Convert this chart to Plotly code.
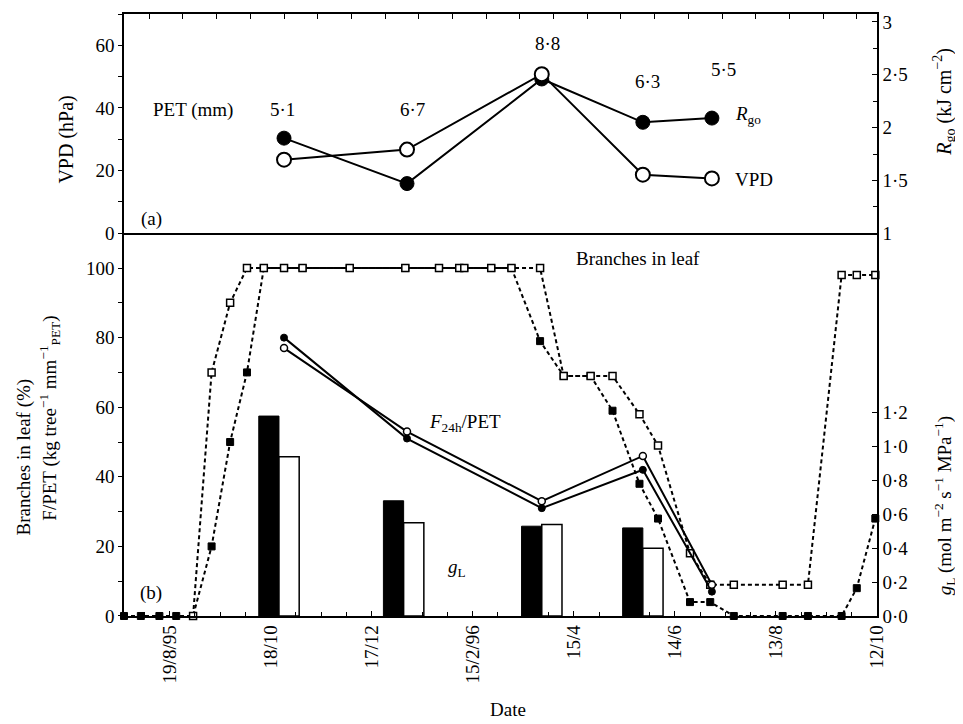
import plotly.graph_objects as go

# ---------------- data ----------------
# (a) measurement campaigns
campaign_dates = ['1995-10-26', '1996-01-07', '1996-03-27', '1996-05-26', '1996-07-06']
vpd_hpa = [23.5, 26.7, 50.8, 18.7, 17.5]
rgo_kj = [1.90, 1.47, 2.46, 2.05, 2.09]
pet_mm_labels = ['5·1', '6·7', '8·8', '6·3', '5·5']

# (b) F24h/PET (two trees)
fpet_open = [77, 53, 33, 46, 9]
fpet_filled = [80, 51, 31, 42, 7]

# (b) leaf conductance gL
gl_dates = ['1995-10-23', '1996-01-05', '1996-03-27', '1996-05-26']
gl_black = [1.18, 0.68, 0.53, 0.52]
gl_white = [0.94, 0.55, 0.54, 0.40]

# (b) branches in leaf (%)
leaf_open_dates = ['1995-09-02', '1995-09-13', '1995-09-24', '1995-10-04', '1995-10-14', '1995-10-26',
                   '1995-11-06', '1995-12-04', '1996-01-06', '1996-01-26', '1996-02-07', '1996-02-10',
                   '1996-02-26', '1996-03-09', '1996-03-26', '1996-04-09', '1996-04-25', '1996-05-08',
                   '1996-05-24', '1996-06-04', '1996-06-23', '1996-07-05', '1996-07-19', '1996-08-17',
                   '1996-09-01', '1996-09-21', '1996-09-30', '1996-10-11']
leaf_open = [0, 70, 90, 100, 100, 100, 100, 100, 100, 100, 100, 100, 100, 100, 100, 69, 69, 69,
             58, 49, 18, 9, 9, 9, 9, 98, 98, 98]

leaf_filled_dates = ['1995-07-23', '1995-08-02', '1995-08-13', '1995-08-23', '1995-09-02', '1995-09-13',
                     '1995-09-24', '1995-10-04', '1995-10-14', '1995-10-26', '1995-11-06', '1995-12-04',
                     '1996-01-06', '1996-01-26', '1996-02-07', '1996-02-10', '1996-02-26', '1996-03-09',
                     '1996-03-26', '1996-04-09', '1996-04-25', '1996-05-08', '1996-05-24', '1996-06-04',
                     '1996-06-23', '1996-07-05', '1996-07-19', '1996-08-17', '1996-09-01', '1996-09-21',
                     '1996-09-30', '1996-10-11']
leaf_filled = [0, 0, 0, 0, 0, 20, 50, 70, 100, 100, 100, 100, 100, 100, 100, 100, 100, 100,
               79, 69, 69, 59, 38, 28, 4, 4, 0, 0, 0, 0, 8, 28]

x_tick_dates = ['1995-08-19', '1995-10-18', '1995-12-17', '1996-02-15', '1996-04-15',
                '1996-06-14', '1996-08-13', '1996-10-12']
x_tick_labels = ['19/8/95', '18/10', '17/12', '15/2/96', '15/4', '14/6', '13/8', '12/10']

gl_ticks = [0, 0.2, 0.4, 0.6, 0.8, 1.0, 1.2]
gl_tick_labels = ['0·0', '0·2', '0·4', '0·6', '0·8', '1·0', '1·2']
rgo_ticks = [1, 1.5, 2, 2.5, 3]
rgo_tick_labels = ['1', '1·5', '2', '2·5', '3']

# ---------------- figure ----------------
DAY = 86400000
XR = ['1995-07-23', '1996-10-12']
FONT = 'Liberation Serif, Times New Roman, serif'
dash = '4px,3px'

fig = go.Figure()

# gL bars (right axis, bottom panel)
fig.add_trace(go.Bar(x=gl_dates, y=gl_black, xaxis='x', yaxis='y2', width=12 * DAY, offset=-12 * DAY,
                     marker=dict(color='black', line=dict(color='black', width=1))))
fig.add_trace(go.Bar(x=gl_dates, y=gl_white, xaxis='x', yaxis='y2', width=12 * DAY, offset=0,
                     marker=dict(color='white', line=dict(color='black', width=1.5))))

# branches in leaf
fig.add_trace(go.Scatter(x=leaf_filled_dates, y=leaf_filled, xaxis='x', yaxis='y', mode='lines+markers',
                         line=dict(color='black', width=2, dash=dash), cliponaxis=False,
                         marker=dict(symbol='square', size=7, color='black', line=dict(color='black', width=1))))
fig.add_trace(go.Scatter(x=leaf_open_dates, y=leaf_open, xaxis='x', yaxis='y', mode='lines+markers',
                         line=dict(color='black', width=2, dash=dash), cliponaxis=False,
                         marker=dict(symbol='square', size=7, color='white', line=dict(color='black', width=1.5))))

# F24h/PET
fig.add_trace(go.Scatter(x=campaign_dates, y=fpet_filled, xaxis='x', yaxis='y', mode='lines+markers',
                         line=dict(color='black', width=2),
                         marker=dict(symbol='circle', size=7, color='black', line=dict(color='black', width=1))))
fig.add_trace(go.Scatter(x=campaign_dates, y=fpet_open, xaxis='x', yaxis='y', mode='lines+markers',
                         line=dict(color='black', width=2),
                         marker=dict(symbol='circle', size=7, color='white', line=dict(color='black', width=1.5))))

# (a) Rgo and VPD
fig.add_trace(go.Scatter(x=campaign_dates, y=rgo_kj, xaxis='x2', yaxis='y4', mode='lines+markers',
                         line=dict(color='black', width=2),
                         marker=dict(symbol='circle', size=14, color='black', line=dict(color='black', width=1))))
fig.add_trace(go.Scatter(x=campaign_dates, y=vpd_hpa, xaxis='x2', yaxis='y3', mode='lines+markers',
                         line=dict(color='black', width=2),
                         marker=dict(symbol='circle', size=14, color='white', line=dict(color='black', width=2))))

axis_common = dict(showgrid=False, zeroline=False, showline=True, linecolor='black', linewidth=1.5,
                   tickcolor='black', tickfont=dict(family=FONT, size=19, color='black'))

SPLIT = 0.6358

# page body has an 8px default margin: figure is drawn from (8, 8)
fig.update_layout(
    width=955, height=716,
    margin=dict(l=116, r=86, t=4, b=108),
    paper_bgcolor='white', plot_bgcolor='white',
    showlegend=False, barmode='overlay',
    font=dict(family=FONT, size=19, color='black'),
    xaxis=dict(type='date', range=XR, anchor='y2', tickvals=x_tick_dates, ticktext=x_tick_labels,
               tickangle=-90, ticks='inside', ticklen=5,
               minor=dict(ticks='inside', ticklen=4, dtick=15 * DAY, tick0='1995-08-04', tickcolor='black'),
               **axis_common),
    xaxis2=dict(type='date', range=XR, anchor='y4', side='top', showticklabels=False, ticks='inside',
                ticklen=5, dtick=20 * DAY, tick0='1995-08-27', mirror=True, **axis_common),
    yaxis2=dict(domain=[0, SPLIT], range=[0, 2.259], side='right', anchor='x',
                tickvals=gl_ticks, ticktext=gl_tick_labels, ticks='inside', ticklen=5, **axis_common),
    yaxis=dict(overlaying='y2', side='left', anchor='x', range=[0, 110],
               tickvals=[0, 20, 40, 60, 80, 100], ticks='outside', ticklen=4,
               minor=dict(dtick=10, ticks='outside', ticklen=4, tickcolor='black'), **axis_common),
    yaxis4=dict(domain=[SPLIT, 1], range=[1, 3.075], side='right', anchor='x2',
                tickvals=rgo_ticks, ticktext=rgo_tick_labels, ticks='inside', ticklen=5,
                minor=dict(dtick=0.25, ticks='inside', ticklen=4, tickcolor='black'), **axis_common),
    yaxis3=dict(overlaying='y4', side='left', anchor='x2', range=[0, 70],
                tickvals=[0, 20, 40, 60], ticks='outside', ticklen=4,
                minor=dict(dtick=10, ticks='outside', ticklen=4, tickcolor='black'), **axis_common),
)

def px_to_paper(px, py):
    # screen pixel -> paper fraction (plot area spans x 124..877, y 12..616 on screen)
    return (px - 124) / 753.0, (616 - py) / 604.0

def note(text, px, py, size=19, angle=0, xanchor='center'):
    x, y = px_to_paper(px, py)
    fig.add_annotation(text=text, x=x, y=y, xref='paper', yref='paper', showarrow=False,
                       textangle=angle, xanchor=xanchor, yanchor='middle',
                       font=dict(family=FONT, size=size, color='black'))

# axis titles
note('VPD (hPa)', 67, 138, size=20, angle=-90)
note('<i>R</i><sub>go</sub> (kJ cm<sup>−2</sup>)', 944, 100, size=20, angle=-90)
note('Branches in leaf (%)', 24, 457, size=19, angle=-90)
note('F/PET (kg tree<sup>−1</sup> mm<sup>−1</sup><sub>PET</sub>)', 50, 418, size=19, angle=-90)
note('<i>g</i><sub>L</sub> (mol m<sup>−2</sup> s<sup>−1</sup> MPa<sup>−1</sup>)', 944, 505, size=19, angle=-90)
note('Date', 508, 710, size=19)

# panel labels & in-plot texts
note('(a)', 151, 218)
note('(b)', 151, 593)
note('PET (mm)', 193, 108)
pet_px = [(282, 108), (412, 108), (547, 42), (647, 80), (723, 68)]
for lbl, (px, py) in zip(pet_mm_labels, pet_px):
    note(lbl, px, py)
note('<i>R</i><sub>go</sub>', 733, 113, xanchor='left')
note('VPD', 733, 178, xanchor='left')
note('Branches in leaf', 638, 257)
note('<i>F</i><sub>24h</sub>/PET', 465, 422)
note('<i>g</i><sub>L</sub>', 457, 568)

fig.write_html('out.html')
